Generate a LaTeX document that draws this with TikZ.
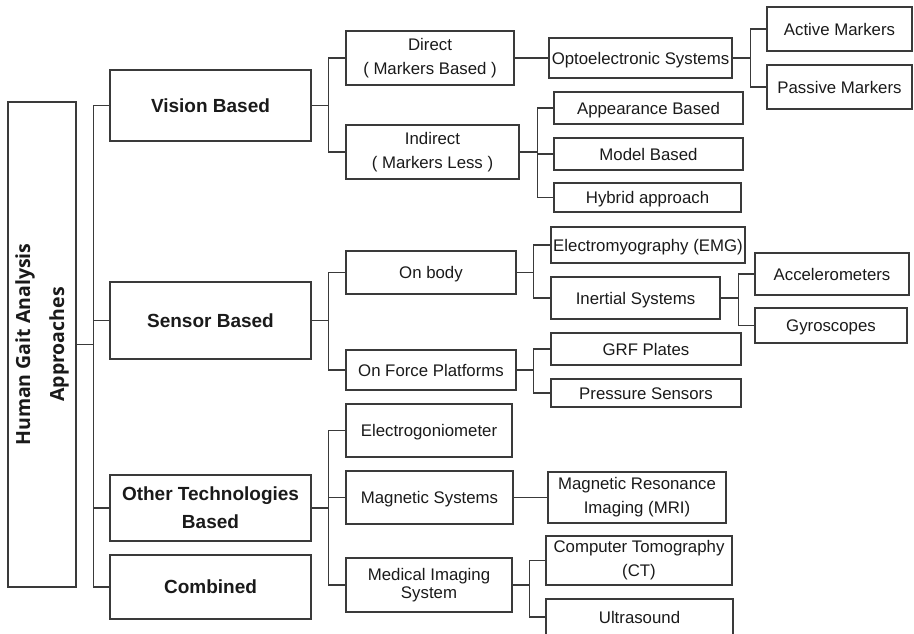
\documentclass[tikz,border=0pt]{standalone}
\usepackage{fontspec}
\setmainfont{Liberation Sans}
\newfontfamily\rootfont{Open Sans}
\definecolor{edge}{HTML}{3A3A3A}
\definecolor{txt}{HTML}{1A1A1A}

\begin{document}
\begin{tikzpicture}[
  x=1pt, y=-1pt,
  font=\fontsize{16.8}{24}\selectfont, text=txt,
  box/.style={draw=edge,line width=1.2pt,inner sep=0pt,align=center},
  leaf/.style={box,text height=12pt,text depth=0pt},
  main/.style={box,font=\fontsize{19}{28}\selectfont\bfseries},
  link/.style={draw=edge,line width=1.2pt},
]
\useasboundingbox (0,0) rectangle (914,633);
\node[box,rotate=90,minimum width=485pt,minimum height=68pt,font=\fontsize{19.5}{34}\selectfont\rootfont\bfseries] (root) at (42,344.5) {Human Gait Analysis\\Approaches};
\node[main,text height=13.6pt,text depth=0pt,minimum width=201pt,minimum height=71pt] (vis) at (210.5,105.5) {Vision Based};
\node[main,text height=13.6pt,text depth=0pt,minimum width=201pt,minimum height=77pt] (sen) at (210.5,320.5) {Sensor Based};
\node[main,minimum width=201pt,minimum height=66pt] (oth) at (210.5,508) {Other Technologies\\Based};
\node[main,text height=13.6pt,text depth=0pt,minimum width=201pt,minimum height=64pt] (com) at (210.5,587) {Combined};
\node[box,minimum width=168pt,minimum height=54pt] (dir) at (430,58) {Direct\\( Markers Based )};
\node[box,minimum width=173pt,minimum height=54pt] (ind) at (432.5,152) {Indirect\\( Markers Less )};
\node[leaf,minimum width=183pt,minimum height=40pt] (opt) at (640.5,58) {Optoelectronic Systems};
\node[leaf,minimum width=145pt,minimum height=44pt] (act) at (839.5,29) {Active Markers};
\node[leaf,minimum width=145pt,minimum height=44pt] (pas) at (839.5,87) {Passive Markers};
\node[leaf,minimum width=189pt,minimum height=32pt] (app) at (648.5,108) {Appearance Based};
\node[leaf,minimum width=189pt,minimum height=32pt] (mdl) at (648.5,154) {Model Based};
\node[leaf,minimum width=187pt,minimum height=29pt] (hyb) at (647.5,197.5) {Hybrid approach};
\node[leaf,minimum width=170pt,minimum height=43pt] (onb) at (431,272.5) {On body};
\node[leaf,minimum width=170pt,minimum height=40pt] (frc) at (431,370) {On Force Platforms};
\node[leaf,minimum width=194pt,minimum height=36pt] (emg) at (648,245) {Electromyography (EMG)};
\node[leaf,minimum width=169pt,minimum height=42pt] (ine) at (635.5,298) {Inertial Systems};
\node[leaf,minimum width=154pt,minimum height=42pt] (acc) at (832,274) {Accelerometers};
\node[leaf,minimum width=152pt,minimum height=35pt] (gyr) at (831,325.5) {Gyroscopes};
\node[leaf,minimum width=190pt,minimum height=32pt] (grf) at (646,349) {GRF Plates};
\node[leaf,minimum width=190pt,minimum height=28pt] (prs) at (646,393) {Pressure Sensors};
\node[leaf,minimum width=166pt,minimum height=53pt] (egm) at (429,430.5) {Electrogoniometer};
\node[leaf,minimum width=167pt,minimum height=53pt] (mag) at (429.5,497.5) {Magnetic Systems};
\node[box,minimum width=166pt,minimum height=54pt,font=\fontsize{16.8}{18.5}\selectfont] (med) at (429,585) {Medical Imaging\\System};
\node[box,minimum width=178pt,minimum height=51pt] (mri) at (637,497.5) {Magnetic Resonance\\Imaging (MRI)};
\node[box,minimum width=186pt,minimum height=49pt] (ct) at (639,560.5) {Computer Tomography\\(CT)};
\node[leaf,minimum width=187pt,minimum height=36pt] (uls) at (639.5,617) {Ultrasound};
\draw[link] (root.south) -- ++(17,0) |- (vis.west);
\draw[link] (root.south) -- ++(17,0) |- (sen.west);
\draw[link] (root.south) -- ++(17,0) |- (oth.west);
\draw[link] (root.south) -- ++(17,0) |- (com.west);
\draw[link] (vis.east) -- ++(17,0) |- (dir.west);
\draw[link] (vis.east) -- ++(17,0) |- (ind.west);
\draw[link] (dir) -- (opt);
\draw[link] (opt.east) -- ++(18,0) |- (act.west);
\draw[link] (opt.east) -- ++(18,0) |- (pas.west);
\draw[link] (ind.east) -- ++(18,0) |- (app.west);
\draw[link] (ind.east) -- ++(18,0) |- (mdl.west);
\draw[link] (ind.east) -- ++(18,0) |- (hyb.west);
\draw[link] (sen.east) -- ++(17,0) |- (onb.west);
\draw[link] (sen.east) -- ++(17,0) |- (frc.west);
\draw[link] (onb.east) -- ++(17,0) |- (emg.west);
\draw[link] (onb.east) -- ++(17,0) |- (ine.west);
\draw[link] (ine.east) -- ++(18,0) |- (acc.west);
\draw[link] (ine.east) -- ++(18,0) |- (gyr.west);
\draw[link] (frc.east) -- ++(17,0) |- (grf.west);
\draw[link] (frc.east) -- ++(17,0) |- (prs.west);
\draw[link] (oth.east) -- ++(17,0) |- (egm.west);
\draw[link] (oth.east) -- ++(17,0) |- (mag.west);
\draw[link] (oth.east) -- ++(17,0) |- (med.west);
\draw[link] (mag) -- (mri);
\draw[link] (med.east) -- ++(17,0) |- (ct.west);
\draw[link] (med.east) -- ++(17,0) |- (uls.west);
\end{tikzpicture}
\end{document}
